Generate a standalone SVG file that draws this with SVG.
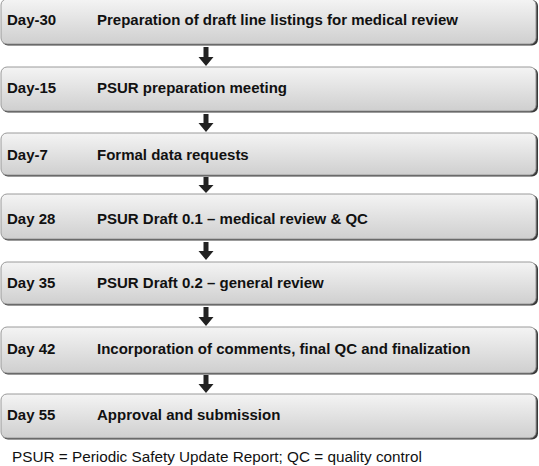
<svg xmlns="http://www.w3.org/2000/svg" width="539" height="466" viewBox="0 0 539 466">
<defs>
<linearGradient id="g" x1="0" y1="0" x2="0" y2="1">
<stop offset="0" stop-color="#f4f4f4"/>
<stop offset="1" stop-color="#cfcfcf"/>
</linearGradient>
<style>
.box{fill:url(#g);stroke:#9a9a9a;stroke-width:1}
.sh{fill:#3a3a3a}
.t{font-family:"Liberation Sans",Arial,Helvetica,sans-serif;font-weight:bold;font-size:15px;fill:#111}
.f{font-family:"Liberation Sans",Arial,Helvetica,sans-serif;font-size:15.3px;fill:#111}
.ar{fill:#222}
</style>
</defs>
<rect width="539" height="466" fill="#fff"/>
<g id="connectors">
<path class="ar" d="M203.5,47 h5 v10 h5 l-7.5,9 l-7.5,-9 h5 z"/>
<path class="ar" d="M203.5,114 h5 v9 h5 l-7.5,9 l-7.5,-9 h5 z"/>
<path class="ar" d="M203.5,177 h5 v8 h5 l-7.5,8 l-7.5,-8 h5 z"/>
<path class="ar" d="M203.5,242 h5 v9 h5 l-7.5,9 l-7.5,-9 h5 z"/>
<path class="ar" d="M203.5,307 h5 v10 h5 l-7.5,9 l-7.5,-9 h5 z"/>
<path class="ar" d="M203.5,375 h5 v9 h5 l-7.5,9 l-7.5,-9 h5 z"/>
</g>
<g id="n1"><rect class="sh" x="2" y="0" width="536" height="45.5" rx="6"/><rect class="box" x="1" y="-1" width="535" height="45" rx="6"/><text class="t" x="7" y="25">Day-30</text><text class="t" x="97" y="25">Preparation of draft line listings for medical review</text></g>
<g id="n2"><rect class="sh" x="2" y="68" width="536" height="44.5" rx="6"/><rect class="box" x="1" y="67" width="535" height="44" rx="6"/><text class="t" x="7" y="93">Day-15</text><text class="t" x="97" y="93">PSUR preparation meeting</text></g>
<g id="n3"><rect class="sh" x="2" y="134" width="536" height="42.5" rx="6"/><rect class="box" x="1" y="133" width="535" height="42" rx="6"/><text class="t" x="7" y="160">Day-7</text><text class="t" x="97" y="160">Formal data requests</text></g>
<g id="n4"><rect class="sh" x="2" y="195" width="536" height="45.5" rx="6"/><rect class="box" x="1" y="194" width="535" height="45" rx="6"/><text class="t" x="7" y="224">Day 28</text><text class="t" x="97" y="224">PSUR Draft 0.1 – medical review &amp; QC</text></g>
<g id="n5"><rect class="sh" x="2" y="263" width="536" height="42.5" rx="6"/><rect class="box" x="1" y="262" width="535" height="42" rx="6"/><text class="t" x="7" y="288">Day 35</text><text class="t" x="97" y="288">PSUR Draft 0.2 – general review</text></g>
<g id="n6"><rect class="sh" x="2" y="328" width="536" height="46.5" rx="6"/><rect class="box" x="1" y="327" width="535" height="46" rx="6"/><text class="t" x="7" y="354">Day 42</text><text class="t" x="97" y="354">Incorporation of comments, final QC and finalization</text></g>
<g id="n7"><rect class="sh" x="2" y="395" width="536" height="44.5" rx="6"/><rect class="box" x="1" y="394" width="535" height="44" rx="6"/><text class="t" x="7" y="420">Day 55</text><text class="t" x="97" y="420">Approval and submission</text></g>
<text class="f" x="12" y="462">PSUR = Periodic Safety Update Report; QC = quality control</text>
</svg>
